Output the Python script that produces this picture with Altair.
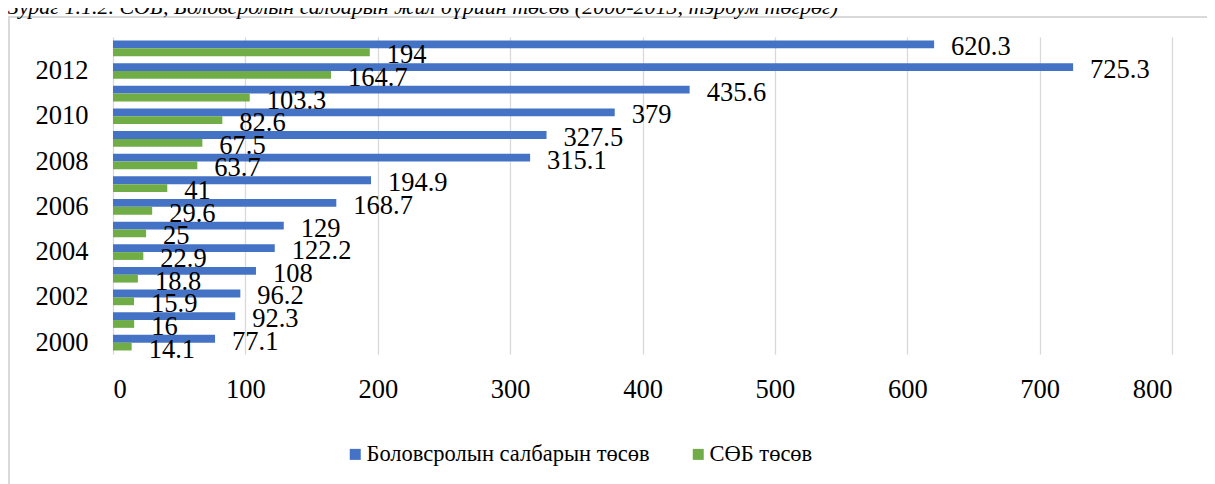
import altair as alt
import pandas as pd

# ---------------- data ----------------
years = [str(y) for y in range(2000, 2014)]
edu_budget = [77.1, 92.3, 96.2, 108, 122.2, 129, 168.7, 194.9, 315.1, 327.5, 379, 435.6, 725.3, 620.3]
seb_budget = [14.1, 16, 15.9, 18.8, 22.9, 25, 29.6, 41, 63.7, 67.5, 82.6, 103.3, 164.7, 194]
series_names = ["Боловсролын салбарын төсөв", "СӨБ төсөв"]
series_colors = ["#4472C4", "#70AD47"]
x_ticks = [0, 100, 200, 300, 400, 500, 600, 700, 800]
y_tick_years = ["2000", "2002", "2004", "2006", "2008", "2010", "2012"]
title_text = "Зураг 1.1.2. СӨБ, Боловсролын салбарын жил бүрийн төсөв (2000-2013, тэрбум төгрөг)"

rows = []
for i, yr in enumerate(years):
    for name, vals in zip(series_names, [edu_budget, seb_budget]):
        rows.append({"year": yr, "series": name, "value": vals[i], "label": f"{vals[i]:g}"})
df = pd.DataFrame(rows)

# ---------------- layout ----------------
W, H = 1059, 317
PAD_L, PAD_T = 105, 29
PAD_R = 1199 - PAD_L - W
PAD_B = 476 - PAD_T - H
FONT = "Liberation Serif"
NUM_SIZE = 26.5

y_enc = alt.Y(
    "year:N",
    sort="descending",
    scale=alt.Scale(paddingInner=0.31, paddingOuter=0.155),
    axis=alt.Axis(values=y_tick_years, title=None, labelFont=FONT, labelFontSize=NUM_SIZE,
                  labelColor="#000000", labelPadding=25, ticks=False, domain=False, grid=False),
)
yoff_enc = alt.YOffset("series:N", sort=series_names,
                       scale=alt.Scale(paddingInner=0, paddingOuter=0))
x_enc = alt.X(
    "value:Q",
    scale=alt.Scale(domain=[0, 800], nice=False),
    axis=alt.Axis(values=x_ticks, title=None, grid=True, gridColor="#d9d9d9", gridWidth=1.3,
                  labelFont=FONT, labelFontSize=NUM_SIZE, labelColor="#000000", labelPadding=22,
                  ticks=False, domain=False),
)

bars = alt.Chart(df).mark_bar().encode(
    x=x_enc,
    y=y_enc,
    yOffset=yoff_enc,
    color=alt.Color(
        "series:N",
        scale=alt.Scale(domain=series_names, range=series_colors),
        legend=alt.Legend(
            orient="none", legendX=231, legendY=406, direction="horizontal",
            title=None, symbolType="square", symbolSize=121, symbolStrokeWidth=0,
            labelFont=FONT, labelFontSize=22.5, labelColor="#000000", labelLimit=600,
            labelOffset=0, columnPadding=37, padding=0,
        ),
    ),
)

labels = alt.Chart(df).mark_text(
    align="left", baseline="middle", dx=17, dy=3, font=FONT, fontSize=NUM_SIZE, color="#000000"
).encode(
    x=alt.X("value:Q"),
    y=alt.Y("year:N", sort="descending"),
    yOffset=alt.YOffset("series:N", sort=series_names),
    text="label:N",
)

frame = alt.Chart(alt.Data(values=[{}])).mark_rect(
    fillOpacity=0, stroke="#d9d9d9", strokeWidth=2
).encode(
    x=alt.value(-104), x2=alt.value(W + 60), y=alt.value(-20), y2=alt.value(H + 200)
)

title = alt.Chart(alt.Data(values=[{}])).mark_text(
    align="left", baseline="alphabetic", font=FONT, fontStyle="italic", fontSize=22, color="#000000"
).encode(
    x=alt.value(-105), y=alt.value(-23), text=alt.value(title_text)
)

chart = alt.layer(frame, title, bars, labels).properties(
    width=W, height=H,
    autosize=alt.AutoSizeParams(type="none"),
    padding={"left": PAD_L, "top": PAD_T, "right": PAD_R, "bottom": PAD_B},
).configure_view(stroke=None)

chart.save("out.html", embed_options={"renderer": "svg", "actions": False})
